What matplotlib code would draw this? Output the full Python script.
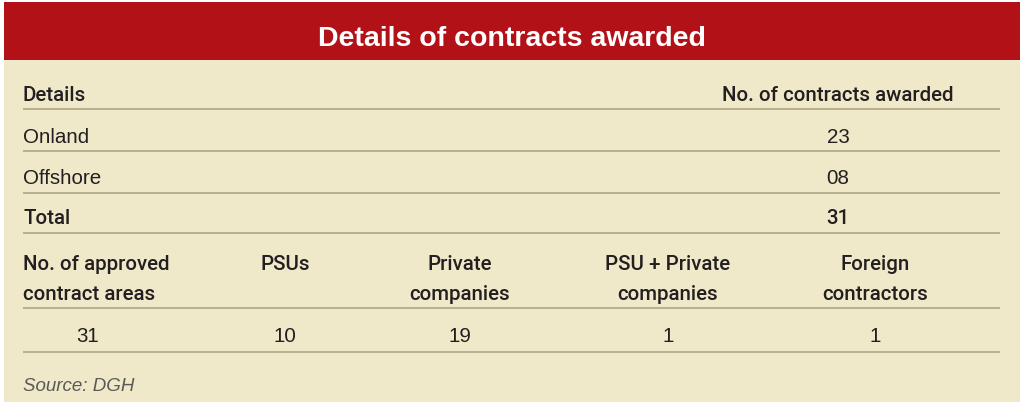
import matplotlib
matplotlib.use("Agg")
import matplotlib.pyplot as plt
from matplotlib.patches import Rectangle

TITLE = "Details of contracts awarded"
HEAD_LEFT = "Details"
HEAD_RIGHT = "No. of contracts awarded"
DETAILS = ["Onland", "Offshore"]
COUNTS = ["23", "08"]
TOTAL_LABEL = "Total"
TOTAL = "31"
BREAK_LABELS = ["No. of approved\ncontract areas", "PSUs", "Private\ncompanies",
                "PSU + Private\ncompanies", "Foreign\ncontractors"]
BREAK_VALUES = [31, 10, 19, 1, 1]
SOURCE = "Source: DGH"

RED = "#B11117"
BEIGE = "#EFE8C9"
RULE = "#B3AE88"
INK = "#231F20"
FONT = ["Liberation Sans", "DejaVu Sans"]
HEAD_FONT = ["Roboto", "Liberation Sans", "DejaVu Sans"]

W, H = 1024, 407
fig = plt.figure(figsize=(W / 100, H / 100), dpi=100)
ax = fig.add_axes([0, 0, 1, 1])
ax.set_xlim(0, W)
ax.set_ylim(H, 0)
ax.axis("off")

# panel + header band
ax.add_patch(Rectangle((4, 2), 1016, 400, color=BEIGE, lw=0))
ax.add_patch(Rectangle((4, 2), 1016, 58, color=RED, lw=0))
ax.text(512, 46, TITLE, color="white", fontsize=20.5, fontweight="bold",
        ha="center", va="baseline", family=FONT)

x0, x1 = 23, 1000
xnum = 838


def rule(y):
    ax.plot([x0, x1], [y, y], color=RULE, lw=1.3, solid_capstyle="butt")


def txt(x, y, s, ha="left", bold=False):
    if bold:
        ax.text(x, y, s, ha=ha, va="baseline", fontsize=14.8, fontweight="medium",
                color=INK, family=HEAD_FONT)
    else:
        ax.text(x, y, s, ha=ha, va="baseline", fontsize=14.8,
                color=INK, family=FONT)


# top table
txt(x0, 101, HEAD_LEFT, bold=True)
txt(xnum, 101, HEAD_RIGHT, ha="center", bold=True)
rule(109)
row_base = [143, 184]
line_y = [151, 193]
for lab, cnt, yy, ly in zip(DETAILS, COUNTS, row_base, line_y):
    txt(x0, yy, lab)
    txt(xnum, yy, cnt, ha="center")
    rule(ly)
txt(x0, 224, TOTAL_LABEL, bold=True)
txt(xnum, 224, TOTAL, ha="center", bold=True)
rule(233)

# breakdown
col_x = [88, 285, 460, 668, 875]
for i, (lab, val, cx) in enumerate(zip(BREAK_LABELS, BREAK_VALUES, col_x)):
    for j, line in enumerate(lab.split("\n")):
        if i == 0:
            txt(x0, 270 + 30 * j, line, bold=True)
        else:
            txt(cx, 270 + 30 * j, line, ha="center", bold=True)
    txt(cx, 342, str(val), ha="center")
rule(308)
rule(352)

ax.text(x0, 391, SOURCE, ha="left", va="baseline", fontsize=13.5, style="italic",
        color="#5A5A5A", family=FONT)

fig.savefig("out.png", dpi=100, facecolor="white")
